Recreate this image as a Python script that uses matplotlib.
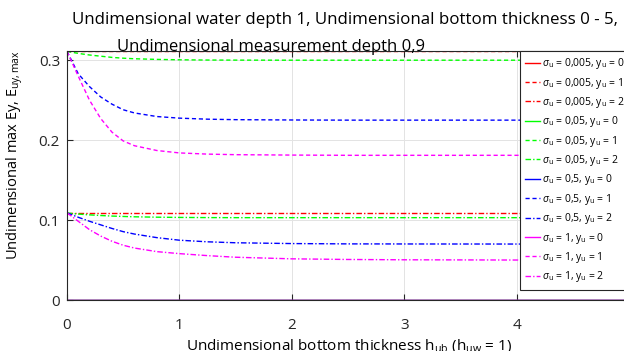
import matplotlib.pyplot as plt

plt.rcParams['font.family'] = ['Open Sans', 'DejaVu Sans']
plt.rcParams['mathtext.fontset'] = 'custom'
plt.rcParams['mathtext.rm'] = 'Open Sans'
plt.rcParams['mathtext.it'] = 'Open Sans:italic'

# bottom thickness h_ub (sample points)
h_ub = [0, 0.1, 0.2, 0.3, 0.4, 0.5, 0.6, 0.8, 1.0, 1.25, 1.5, 2.0, 2.5, 3.0, 4.0, 5.0]

# y_u = 0 -> zero everywhere
e_s0005_y0 = [0.0] * 16
e_s005_y0 = [0.0] * 16
e_s05_y0 = [0.0] * 16
e_s1_y0 = [0.0] * 16

# y_u = 1
e_s0005_y1 = [0.3115] * 16
e_s005_y1 = [0.311, 0.3085, 0.3065, 0.305, 0.3035, 0.3025, 0.3018, 0.301, 0.3005,
             0.3002, 0.3001, 0.300, 0.300, 0.300, 0.300, 0.300]
e_s05_y1 = [0.311, 0.283, 0.267, 0.254, 0.245, 0.238, 0.234, 0.2295, 0.2275,
            0.2262, 0.2256, 0.2252, 0.225, 0.225, 0.225, 0.225]
e_s1_y1 = [0.311, 0.280, 0.250, 0.227, 0.210, 0.199, 0.193, 0.187, 0.184,
           0.1825, 0.1818, 0.1813, 0.181, 0.181, 0.181, 0.181]

# y_u = 2
e_s0005_y2 = [0.1085] * 16
e_s005_y2 = [0.1088, 0.1075, 0.1065, 0.1057, 0.105, 0.1045, 0.1041, 0.1036, 0.1033,
             0.1031, 0.103, 0.103, 0.103, 0.103, 0.103, 0.103]
e_s05_y2 = [0.109, 0.1035, 0.0985, 0.094, 0.0895, 0.0855, 0.0825, 0.078, 0.0748,
            0.0728, 0.0716, 0.0706, 0.0702, 0.0701, 0.070, 0.070]
e_s1_y2 = [0.109, 0.0985, 0.088, 0.080, 0.0735, 0.0685, 0.065, 0.0605, 0.058,
           0.0555, 0.0535, 0.0515, 0.0507, 0.0503, 0.050, 0.050]

sigmas = ['0,005', '0,05', '0,5', '1']
colors = ['#ff0000', '#00ff00', '#0000ff', '#ff00ff']
series = [
    [e_s0005_y0, e_s0005_y1, e_s0005_y2],
    [e_s005_y0, e_s005_y1, e_s005_y2],
    [e_s05_y0, e_s05_y1, e_s05_y2],
    [e_s1_y0, e_s1_y1, e_s1_y2],
]
styles = [dict(linestyle='-'), dict(dashes=(3, 2)), dict(dashes=(4, 1.5, 1, 1.5))]

fig = plt.figure(figsize=(6.24, 3.51), dpi=100)
ax = fig.add_axes([67 / 624, 51 / 351, 562 / 624, 249 / 351])

for sig, col, group in zip(sigmas, colors, series):
    for yu, (vals, st) in enumerate(zip(group, styles)):
        ax.plot(h_ub, vals, color=col, lw=1, **st,
                label=r'$\sigma_{\rm u}$ = %s, y$_{\rm u}$ = %d' % (sig, yu))

ax.set_xlim(0, 5)
ax.set_ylim(0, 0.3115)
ax.set_xticks([0, 1, 2, 3, 4, 5])
ax.set_yticks([0, 0.1, 0.2, 0.3])
ax.set_yticklabels(['0', '0.1', '0.2', '0.3'])
ax.grid(True, color='#e3e3e3', lw=0.7)
ax.set_axisbelow(True)
for s in ax.spines.values():
    s.set_color('#262626')
    s.set_linewidth(0.8)
ax.tick_params(direction='in', top=True, right=True, labelsize=11, colors='#262626',
               length=4, width=0.8)
ax.tick_params(axis='x', pad=13)
ax.tick_params(axis='y', pad=5)

ax.set_xlabel(r'Undimensional bottom thickness h$_{\rm ub}$ (h$_{\rm uw}$ = 1)', fontsize=11)
ax.set_ylabel(r'Undimensional max Ey, E$_{\rm uy,max}$', fontsize=10.5)
ax.xaxis.set_label_coords((349 - 67) / 562, -(337 - 300) / 249)
ax.yaxis.set_label_coords(-(67 - 25) / 562, (300 - 155) / 249)

fig.text(345 / 624, 1 - 20 / 351, 'Undimensional water depth 1, Undimensional bottom thickness 0 - 5,',
         ha='center', va='center', fontsize=12.2)
fig.text(271 / 624, 1 - 47 / 351, 'Undimensional measurement depth 0,9',
         ha='center', va='center', fontsize=12)

leg = ax.legend(loc='upper left', bbox_to_anchor=(520 / 624, 1 - 51 / 351),
                bbox_transform=fig.transFigure, fontsize=7.5, frameon=True,
                fancybox=False, handlelength=1.4, handletextpad=0.2,
                labelspacing=0.42, borderpad=0.5, borderaxespad=0)
leg.get_frame().set_edgecolor('#262626')
leg.get_frame().set_linewidth(0.8)
leg.get_frame().set_alpha(1)

fig.savefig('out.png', dpi=100)
plt.close(fig)
